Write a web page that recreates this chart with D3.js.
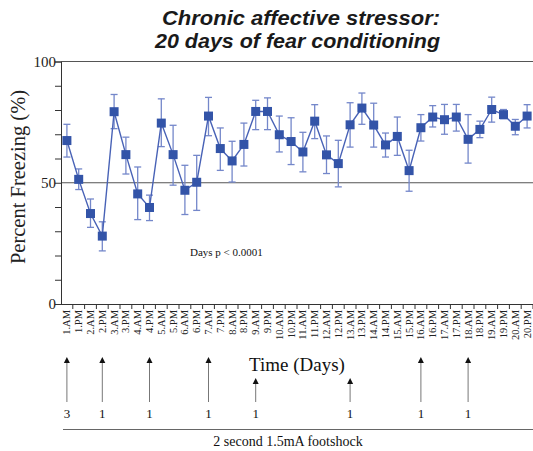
<!DOCTYPE html>
<html>
<head>
<meta charset="utf-8">
<script src="https://cdn.jsdelivr.net/npm/d3@7"></script>
<style>
  html, body { margin: 0; padding: 0; background: #fff; }
  svg { display: block; }
</style>
</head>
<body>
<div id="chart"></div>
<script>
// Percent freezing across 20 days (AM/PM sessions), mean with error bars.

const sessions = [];
for (let d = 1; d <= 20; d++) { sessions.push(d + '.AM'); sessions.push(d + '.PM'); }

const freezing = [67.4, 51.4, 37.3, 28.0, 79.3, 61.6, 45.4, 39.8, 74.6, 61.6,
                  46.9, 50.2, 77.5, 64.1, 59.0, 65.8, 79.4, 79.4, 69.8, 67.0,
                  62.7, 75.4, 61.5, 57.9, 73.9, 80.8, 73.8, 65.6, 69.1, 55.0,
                  72.7, 77.1, 76.0, 77.1, 67.9, 72.0, 80.2, 78.1, 73.3, 77.5];
const errHigh  = [74.1, 55.7, 43.3, 33.9, 86.4, 68.8, 56.5, 44.9, 84.6, 73.7,
                  57.2, 61.3, 85.2, 72.6, 67.1, 74.6, 84.0, 85.0, 77.5, 76.8,
                  70.8, 82.2, 69.3, 67.5, 83.0, 87.0, 82.8, 70.5, 77.1, 63.4,
                  78.1, 81.8, 82.3, 82.3, 78.1, 75.4, 85.3, 80.2, 76.1, 82.2];
const errLow   = [60.6, 47.2, 31.6, 21.9, 72.3, 53.6, 34.8, 34.4, 64.9, 49.0,
                  36.9, 38.6, 69.4, 55.1, 50.3, 56.9, 71.9, 71.9, 62.7, 57.5,
                  54.5, 68.2, 53.8, 48.3, 64.7, 74.1, 64.7, 60.6, 61.3, 46.5,
                  67.2, 73.0, 70.0, 71.3, 58.1, 68.6, 75.0, 76.4, 69.8, 72.6];

// footshock sessions and number of shocks; short = lower arrow
const shockSessions = ['1.AM', '2.PM', '4.PM', '7.AM', '9.AM', '13.AM', '16.AM', '18.AM'];
const shockCounts   = [3, 1, 1, 1, 1, 1, 1, 1];
const shortArrow    = [false, false, false, false, true, true, false, false];

const yTicks = [0, 50, 100];

const W = 533, H = 451;
const svg = d3.select('#chart').append('svg').attr('width', W).attr('height', H);

const x = d3.scalePoint().domain(sessions).range([61, 533]).padding(0.5);
const y = d3.scaleLinear().domain([0, 100]).range([304, 61.5]);
const step = x.step();

const blue = '#3354a8', lineBlue = '#4862b6', errBlue = '#7487ca';
const serif = '"Liberation Serif", "Times New Roman", serif';
const sans = '"Liberation Sans", Arial, sans-serif';

// title
[['Chronic affective stressor:', 25, 301, 278], ['20 days of fear conditioning', 47.5, 297.5, 285]]
  .forEach(([t, ty, tx, len]) => {
    svg.append('text').attr('x', tx).attr('y', ty).attr('text-anchor', 'middle')
      .attr('textLength', len).attr('lengthAdjust', 'spacingAndGlyphs')
      .style('font-family', sans)
      .style('font-size', '20px').style('font-weight', 'bold').style('font-style', 'italic')
      .attr('fill', '#1a1a1a')
      .text(t);
  });

// reference lines at 50 and 100
svg.selectAll('line.ref').data([50, 100]).enter().append('line')
  .attr('x1', 61).attr('x2', 533)
  .attr('y1', d => y(d)).attr('y2', d => y(d))
  .attr('stroke', '#555').attr('stroke-width', 1.2);

// y axis with minor ticks every 10
const yAxis = d3.axisLeft(y).tickValues(d3.range(0, 101, 10)).tickSize(6)
  .tickFormat(d => yTicks.includes(d) ? d : '');
const gy = svg.append('g').attr('transform', 'translate(61,0)').call(yAxis);
gy.select('.domain').attr('stroke', '#333');
gy.selectAll('.tick line').attr('stroke', '#333');
gy.selectAll('.tick text').style('font-family', serif).style('font-size', '15px')
  .attr('fill', '#222').attr('x', -5);

svg.append('text')
  .attr('transform', 'translate(25,177) rotate(-90)')
  .attr('text-anchor', 'middle')
  .style('font-family', serif).style('font-size', '20.5px').attr('fill', '#222')
  .text('Percent Freezing (%)');

// x axis: line, ticks at session boundaries, rotated labels
const xg = svg.append('g');
xg.append('line').attr('x1', 61).attr('x2', 533).attr('y1', 304.5).attr('y2', 304.5)
  .attr('stroke', '#333');
xg.selectAll('line.xt').data(sessions).enter().append('line')
  .attr('x1', d => x(d) + step / 2).attr('x2', d => x(d) + step / 2)
  .attr('y1', 304.5).attr('y2', 309).attr('stroke', '#333');
xg.selectAll('text.xl').data(sessions).enter().append('text')
  .attr('transform', d => `translate(${x(d) + 3.5},310) rotate(-90)`)
  .attr('text-anchor', 'end')
  .style('font-family', serif).style('font-size', '10.5px').attr('fill', '#222')
  .text(d => d);

// error bars
const eb = svg.append('g').attr('stroke', errBlue).attr('stroke-width', 1.3);
sessions.forEach((s, i) => {
  const cx = x(s);
  eb.append('line').attr('x1', cx).attr('x2', cx).attr('y1', y(errHigh[i])).attr('y2', y(errLow[i]));
  eb.append('line').attr('x1', cx - 3.5).attr('x2', cx + 3.5).attr('y1', y(errHigh[i])).attr('y2', y(errHigh[i]));
  eb.append('line').attr('x1', cx - 3.5).attr('x2', cx + 3.5).attr('y1', y(errLow[i])).attr('y2', y(errLow[i]));
});

// connecting line
svg.append('path')
  .datum(freezing)
  .attr('d', d3.line().x((d, i) => x(sessions[i])).y(d => y(d)))
  .attr('fill', 'none').attr('stroke', lineBlue).attr('stroke-width', 1.4);

// square markers
svg.selectAll('rect.pt').data(freezing).enter().append('rect')
  .attr('x', (d, i) => x(sessions[i]) - 4.5).attr('y', d => y(d) - 4.5)
  .attr('width', 9).attr('height', 9).attr('fill', blue);

// stats annotation
svg.append('text').attr('x', 190).attr('y', 256)
  .style('font-family', serif).style('font-size', '11px').attr('fill', '#111')
  .text('Days p < 0.0001');

// x title
svg.append('text').attr('x', 297).attr('y', 371).attr('text-anchor', 'middle')
  .style('font-family', serif).style('font-size', '19px').attr('fill', '#111')
  .text('Time (Days)');

// footshock arrows
shockSessions.forEach((s, i) => {
  const cx = x(s);
  const top = shortArrow[i] ? 378 : 357;
  svg.append('line').attr('x1', cx).attr('x2', cx)
    .attr('y1', 402).attr('y2', top + 4)
    .attr('stroke', '#777').attr('stroke-width', 1);
  svg.append('path')
    .attr('d', `M${cx - 3},${top + 6} L${cx},${top} L${cx + 3},${top + 6} Z`)
    .attr('fill', '#111');
  svg.append('text').attr('x', cx).attr('y', 418).attr('text-anchor', 'middle')
    .style('font-family', serif).style('font-size', '13px').attr('fill', '#111')
    .text(shockCounts[i]);
});

svg.append('line').attr('x1', 63).attr('x2', 533).attr('y1', 429.5).attr('y2', 429.5)
  .attr('stroke', '#666');
svg.append('text').attr('x', 288).attr('y', 446).attr('text-anchor', 'middle')
  .style('font-family', serif).style('font-size', '14px').attr('fill', '#111')
  .text('2 second 1.5mA footshock');
</script>
</body>
</html>
